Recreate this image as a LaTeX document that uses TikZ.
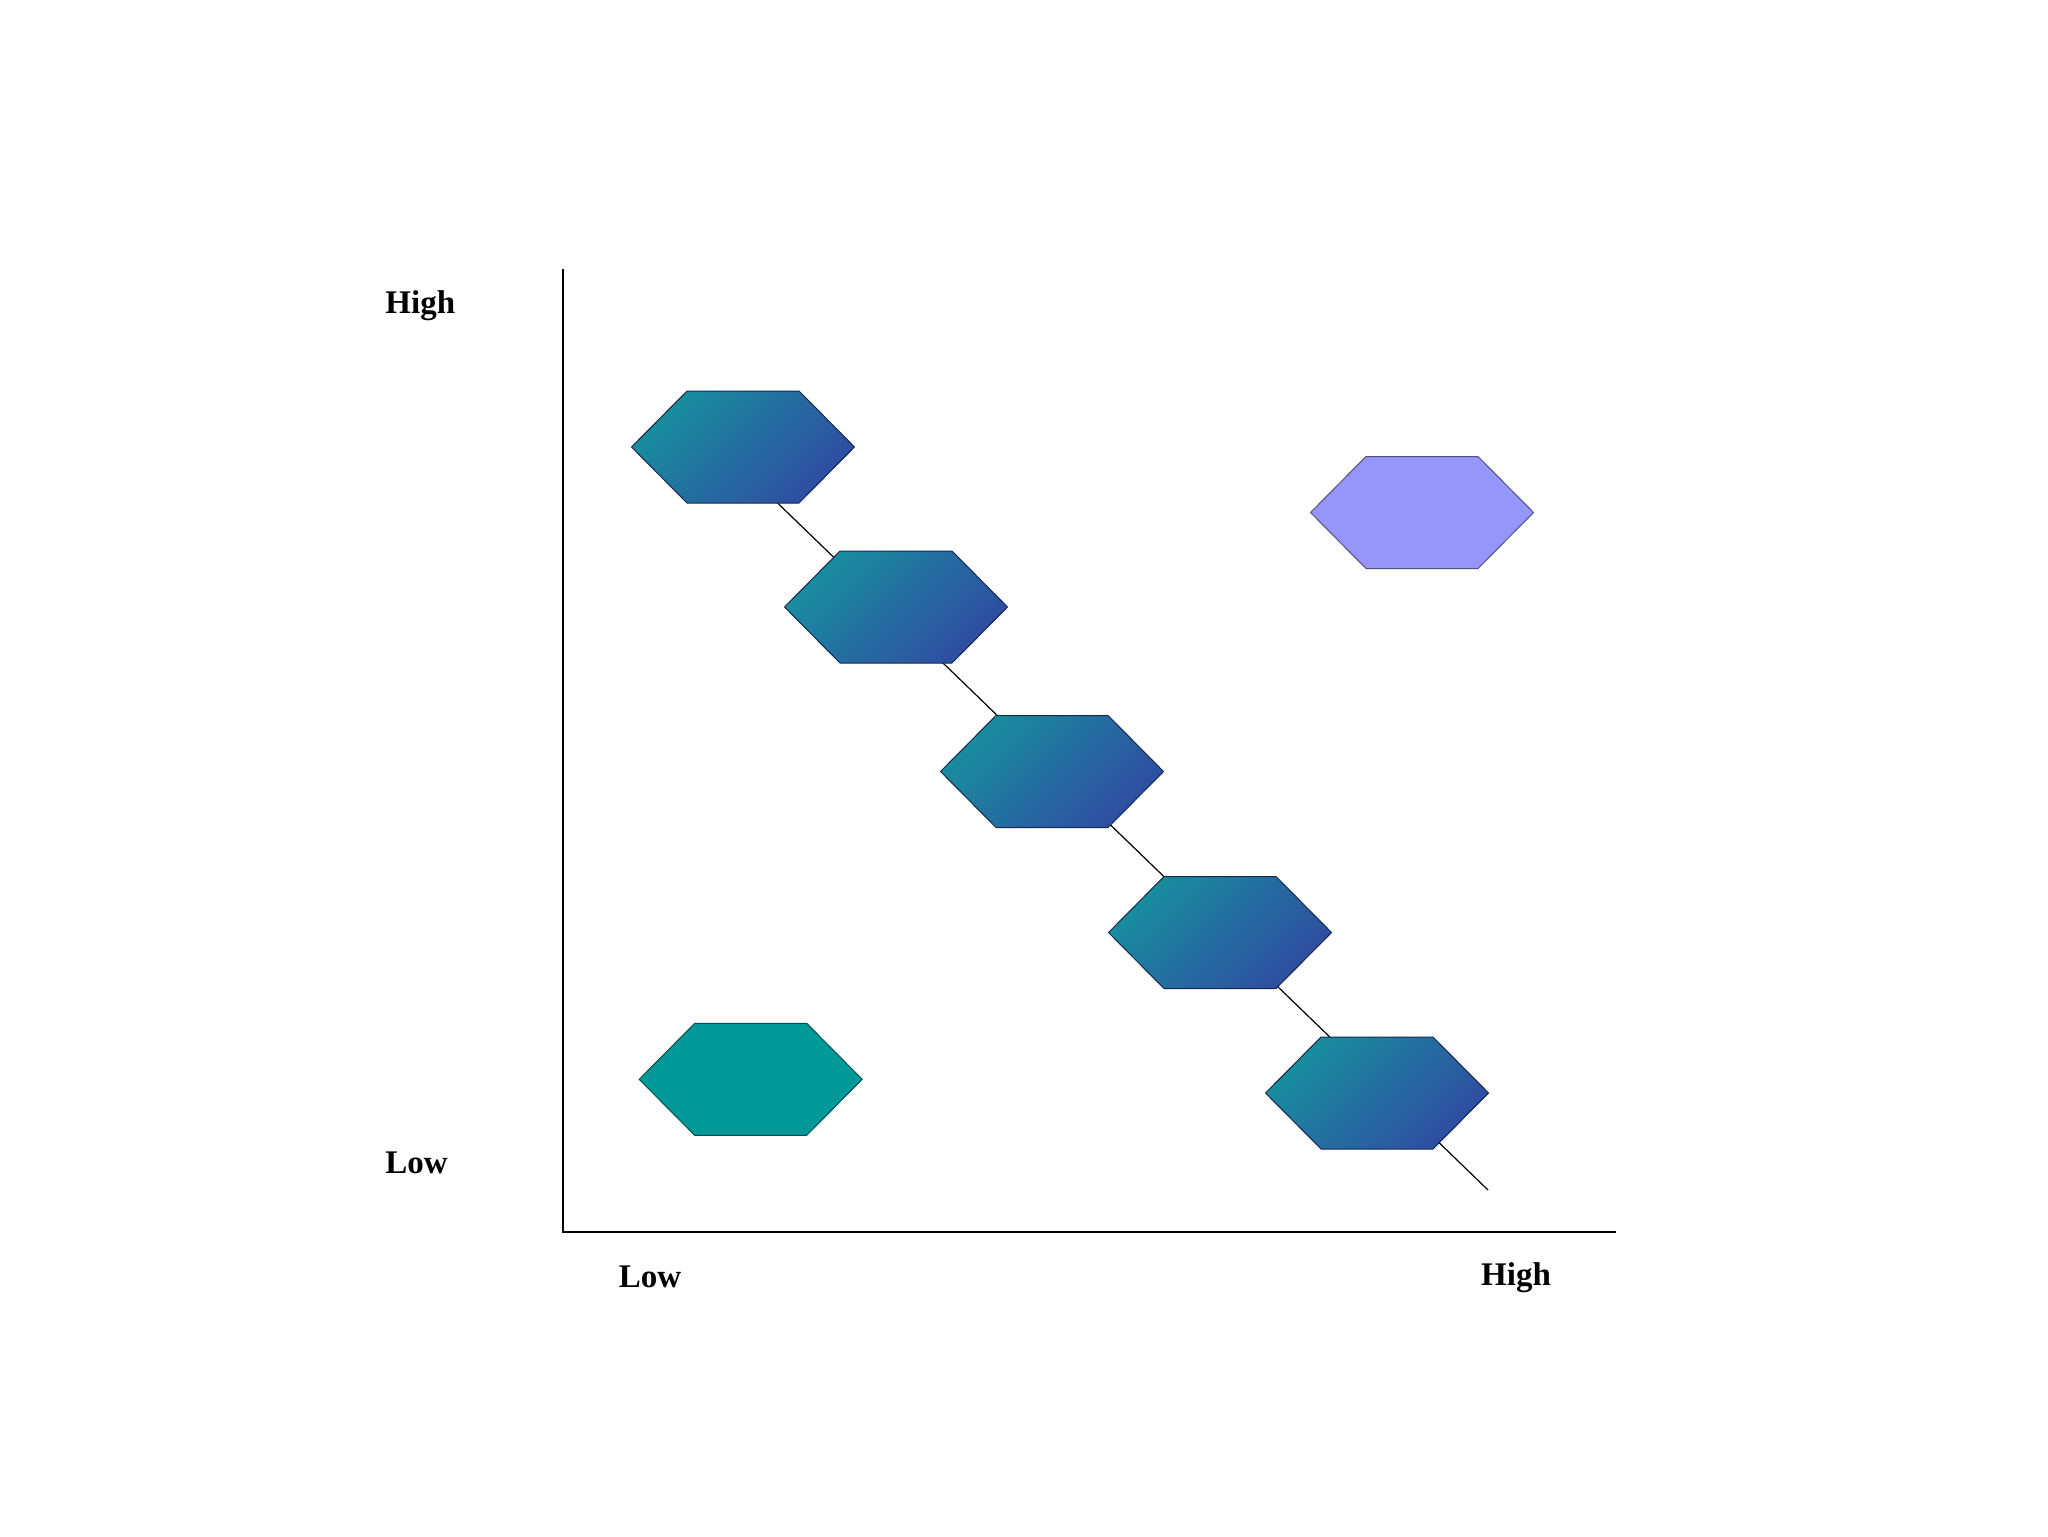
\documentclass[tikz,border=0pt]{standalone}
\usepackage{fontspec}
\setmainfont{Liberation Serif}
\definecolor{gradA}{RGB}{24,142,158}
\definecolor{gradB}{RGB}{48,76,162}
\definecolor{gradEdge}{RGB}{20,40,80}
\definecolor{lilac}{RGB}{150,150,250}
\definecolor{lilacEdge}{RGB}{80,80,130}
\definecolor{tealfill}{RGB}{0,152,152}
\definecolor{tealEdge}{RGB}{0,80,80}
\begin{document}
\begin{tikzpicture}[x=0.5pt,y=-0.5pt,
  axisline/.style={line width=0.85pt,black},
  diag/.style={line width=0.6pt,black},
  gradhex/.style={draw=gradEdge,line width=0.5pt,top color=gradA,bottom color=gradB,shading angle=45},
  lilachex/.style={draw=lilacEdge,line width=0.5pt,fill=lilac},
  tealhex/.style={draw=tealEdge,line width=0.5pt,fill=tealfill},
  lbl/.style={font=\fontsize{16.5pt}{19pt}\selectfont\bfseries,inner sep=0pt}]
\useasboundingbox (0,0) rectangle (2048,1536);
% axes
\coordinate (origin) at (563,1232);
\coordinate (ytop) at (563,269);
\coordinate (xend) at (1616,1232);
\draw[axisline] (ytop) -- (origin) -- (xend);
% labels
\node[lbl,anchor=base west] (yhigh) at (385,313) {High};
\node[lbl,anchor=base west] (ylow) at (385,1173) {Low};
\node[lbl,anchor=base] (xlow) at (650,1287) {Low};
\node[lbl,anchor=base] (xhigh) at (1516,1285) {High};
% diagonal
\coordinate (dstart) at (730,457);
\coordinate (dend) at (1488,1190);
\draw[diag] (dstart) -- (dend);
% hexagons
\foreach \n/\cx/\cy/\st in {h1/743/447/gradhex, h2/896/607/gradhex, h3/1052/771.5/gradhex, h4/1220/932.5/gradhex, h5/1377/1093/gradhex, hp/1422/512.5/lilachex, ht/750.7/1079.3/tealhex}{
  \coordinate (\n) at (\cx,\cy);
  \draw[\st,shift={(\n)}] (-111.5,0) -- (-56,-56) -- (56,-56) -- (111.5,0) -- (56,56) -- (-56,56) -- cycle;
}
\end{tikzpicture}
\end{document}
